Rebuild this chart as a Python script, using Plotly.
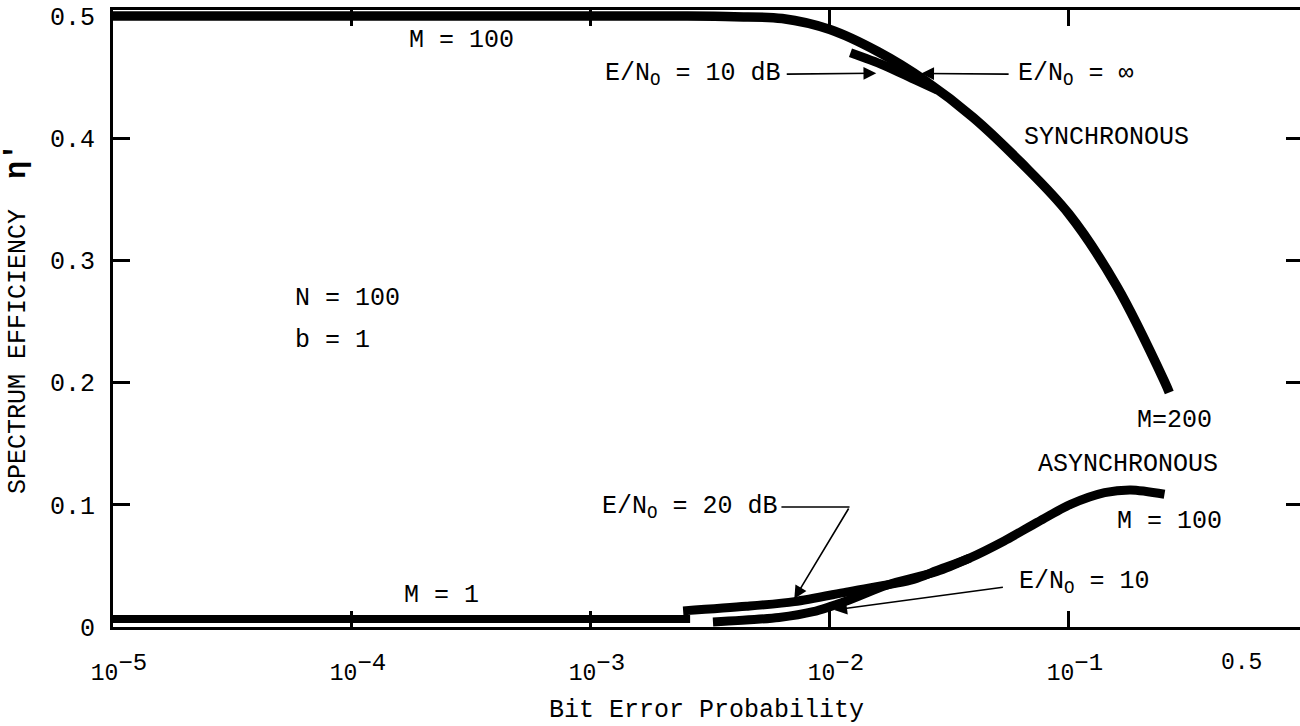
import math
import plotly.graph_objects as go

# ---------------- data ----------------
# Synchronous, E/No = infinity (M = 100 ... M = 200)
sync_inf_ber = [1e-5, 1e-3, 0.00251, 0.00398, 0.00631, 0.0100, 0.01585, 0.02512,
                0.03981, 0.0631, 0.100, 0.1585, 0.2512, 0.263]
sync_inf_eff = [0.500, 0.500, 0.500, 0.4995, 0.498, 0.489, 0.471, 0.447,
                0.417, 0.380, 0.338, 0.279, 0.201, 0.192]

# Synchronous, E/No = 10 dB
sync_10db_ber = [0.01219, 0.0167, 0.0229, 0.0282]
sync_10db_eff = [0.470, 0.460, 0.4475, 0.4395]

# Asynchronous, M = 1
async_m1_ber = [1e-5, 0.0026]
async_m1_eff = [0.0066, 0.0066]

# Asynchronous, E/No = 20 dB (M = 100)
async_20db_ber = [0.00243, 0.00447, 0.0071, 0.01172, 0.02239, 0.0280, 0.0386,
                  0.0536, 0.0738, 0.1016, 0.141, 0.1815, 0.2512]
async_20db_eff = [0.0132, 0.0169, 0.0208, 0.0286, 0.0390, 0.0462, 0.0566,
                  0.0704, 0.0857, 0.1003, 0.1099, 0.1122, 0.1087]

# Asynchronous, E/No = 10
async_10_ber = [0.00324, 0.00612, 0.00851, 0.01172, 0.01726, 0.0280, 0.0386]
async_10_eff = [0.0040, 0.0078, 0.0125, 0.0213, 0.0342, 0.0454, 0.0566]

x_tickvals = [1e-5, 1e-4, 1e-3, 1e-2, 1e-1]
x_exponents = ["−5", "−4", "−3", "−2", "−1"]
y_tickvals = [0, 0.1, 0.2, 0.3, 0.4, 0.5]
y_ticktext = ["0", "0.1", "0.2", "0.3", "0.4", "0.5"]

MONO = "Liberation Mono"
INK = "black"

x_ticktext = ['10<sup><span style="font-size:24px">%s</span></sup>' % e for e in x_exponents]

fig = go.Figure()

def curve(x, y, width, smooth=0.8):
    fig.add_trace(go.Scatter(x=x, y=y, mode="lines",
                             line=dict(color=INK, width=width, shape="spline", smoothing=smooth),
                             hoverinfo="skip", showlegend=False))

curve(sync_inf_ber, sync_inf_eff, 9.5, 1.0)
curve(sync_10db_ber, sync_10db_eff, 9)
curve(async_m1_ber, async_m1_eff, 8)
curve(async_20db_ber, async_20db_eff, 9)
curve(async_10_ber, async_10_eff, 9)

# invisible trace to carry the right-hand tick axis
fig.add_trace(go.Scatter(x=[1e-5], y=[0], yaxis="y2", mode="markers",
                         marker=dict(opacity=0), hoverinfo="skip", showlegend=False))

lg = math.log10

def label(text, x, y, xanchor="center", size=25):
    fig.add_annotation(text=text, x=lg(x), y=y, xref="x", yref="y",
                       showarrow=False, xanchor=xanchor, yanchor="middle",
                       font=dict(family=MONO, size=size, color=INK))

def arrow(x_tip, y_tip, x_tail, y_tail):
    fig.add_annotation(text="", x=lg(x_tip), y=y_tip, ax=lg(x_tail), ay=y_tail,
                       xref="x", yref="y", axref="x", ayref="y",
                       showarrow=True, arrowhead=2, arrowsize=1.6, arrowwidth=1.6,
                       arrowcolor=INK, standoff=0, startstandoff=0)

# labels
label("M = 100", 10 ** -3.541, 0.480)
label("E/N<sub>O</sub> = 10 dB", 10 ** -2.195, 0.452, xanchor="right")
arrow(10 ** -1.806, 0.4533, 10 ** -2.187, 0.4525)
label("E/N<sub>O</sub> = ∞", 10 ** -1.221, 0.452, xanchor="left")
arrow(10 ** -1.618, 0.453, 10 ** -1.246, 0.4525)
label("SYNCHRONOUS", 10 ** -0.843, 0.4004)
label("N = 100", 10 ** -4.246, 0.269, xanchor="left")
label("b = 1", 10 ** -4.246, 0.2347, xanchor="left")
label("M=200", 10 ** -0.557, 0.169)
label("ASYNCHRONOUS", 10 ** -0.752, 0.1327)
label("M = 100", 10 ** -0.580, 0.0867)
label("E/N<sub>O</sub> = 20 dB", 10 ** -2.211, 0.0978, xanchor="right")
# leader line from the "20 dB" label to the bend of its arrow
fig.add_trace(go.Scatter(x=[10 ** -2.203, 10 ** -1.918], y=[0.0982, 0.0982], mode="lines",
                         line=dict(color=INK, width=1.6), hoverinfo="skip", showlegend=False))
arrow(10 ** -2.149, 0.0232, 10 ** -1.918, 0.0982)
label("E/N<sub>O</sub> = 10", 10 ** -1.219, 0.0367, xanchor="left")
arrow(10 ** -1.982, 0.014, 10 ** -1.270, 0.0327)
label("M = 1", 10 ** -3.626, 0.026)

# the extra "0.5" abscissa label (no tick mark in the original)
fig.add_annotation(text="0.5", x=lg(0.5), y=-0.058, xref="x", yref="paper",
                   xshift=6, showarrow=False, xanchor="center", yanchor="middle",
                   font=dict(family=MONO, size=23, color=INK))

fig.update_layout(
    width=1300, height=726,
    margin=dict(l=113, r=0, t=10, b=99),
    paper_bgcolor="white", plot_bgcolor="white",
    showlegend=False,
    xaxis=dict(type="log", range=[-5, -0.033],
               tickvals=x_tickvals, ticktext=x_ticktext,
               ticks="inside", ticklen=16, tickwidth=2.5, tickcolor=INK,
               showline=True, linewidth=3, linecolor=INK, mirror="ticks",
               showgrid=False, zeroline=False,
               tickfont=dict(family=MONO, size=23, color=INK),
               ticklabelstandoff=22, ticklabelshift=6,
               title=dict(text="Bit Error Probability", standoff=14,
                          font=dict(family=MONO, size=25, color=INK))),
    yaxis=dict(range=[0, 0.505],
               tickvals=y_tickvals, ticktext=y_ticktext,
               ticks="inside", ticklen=17, tickwidth=2.5, tickcolor=INK,
               showline=True, linewidth=3, linecolor=INK, mirror=False,
               showgrid=False, zeroline=False,
               tickfont=dict(family=MONO, size=25, color=INK),
               ticklabelstandoff=10,
               title=dict(text="SPECTRUM EFFICIENCY  <b><span style=\"font-size:30px\">η'</span></b>",
                          standoff=20,
                          font=dict(family=MONO, size=25, color=INK))),
    yaxis2=dict(range=[0, 0.505], overlaying="y", side="right", anchor="x",
                tickvals=y_tickvals[1:-1], ticks="inside", ticklen=14, tickwidth=2.5,
                tickcolor=INK, showticklabels=False, showline=False,
                showgrid=False, zeroline=False),
)

fig.write_html("out.html")
